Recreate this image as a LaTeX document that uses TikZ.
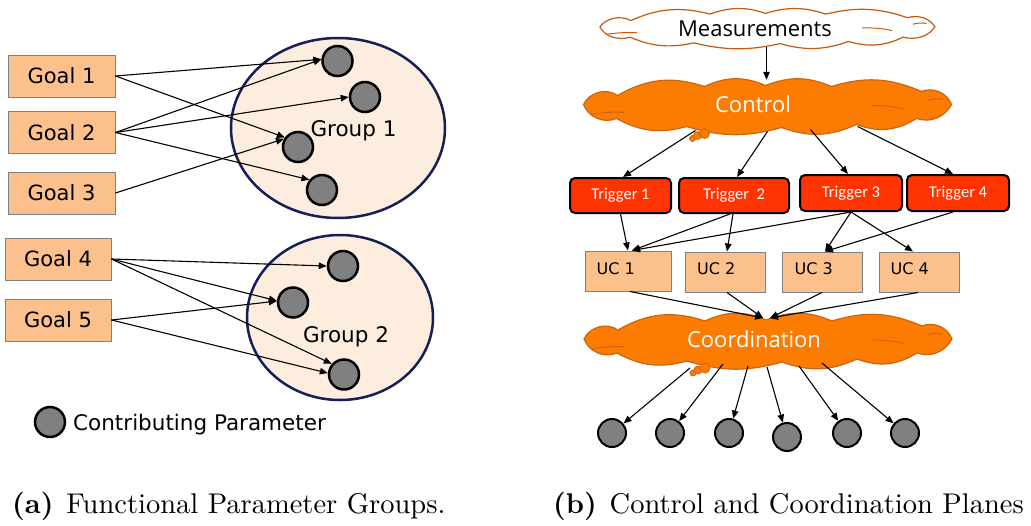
\documentclass[tikz,border=0pt]{standalone}
\usepackage{fontspec}
\newfontfamily\verd{DejaVu Sans}
\newfontfamily\segoe{Open Sans}
\newfontfamily\calib{Carlito}
\newfontfamily\caprm{lmroman10-regular.otf}[BoldFont=lmroman10-bold.otf]
\usetikzlibrary{shapes.geometric,arrows.meta,calc}

\definecolor{goalfill}{RGB}{251,192,140}
\definecolor{boxline}{RGB}{120,128,140}
\definecolor{groupfill}{RGB}{253,237,222}
\definecolor{navy}{RGB}{22,30,88}
\definecolor{paramgray}{RGB}{128,128,128}
\definecolor{ctrlfill}{RGB}{252,124,2}
\definecolor{ctrlline}{RGB}{205,100,15}
\definecolor{measline}{RGB}{197,90,17}
\definecolor{trigred}{RGB}{255,52,0}

% outline of a wide cloud, centred on the origin (about 370 x 53 units)
\newcommand\cloudoutline{(-183,-2) to[bend left=50] (-149,-11) to[bend left=24] (-62,-20)
  to[bend left=24] (-1,-21) to[bend left=22] (65,-20) to[bend left=20] (155,-15)
  to[bend left=45] (185,-2) to[bend left=40] (150,12) to[bend left=26] (90,18)
  to[bend left=22] (15,21) to[bend left=16] (-80,20) to[bend left=22] (-150,12)
  to[bend left=45] (-183,-2) -- cycle}
% short inner folds of the cloud
\newcommand\cloudfolds{(-176,8) .. controls (-165,6) and (-152,5) .. (-142,6)
  (105,-1) .. controls (117,-1) and (129,0) .. (138,3)
  (161,-6) .. controls (166,-8) and (171,-8) .. (176,-7)}

\tikzset{
  goalbox/.style={draw=boxline, fill=goalfill, line width=1pt, minimum width=107pt,
    minimum height=42pt, inner sep=0pt, font=\verd\fontsize{21}{24}\selectfont},
  grp/.style={ellipse, draw=navy, fill=groupfill, line width=2.5pt, inner sep=0pt},
  lbl/.style={inner sep=0pt, font=\verd\fontsize{21.5}{24}\selectfont},
  param/.style={circle, draw=black, fill=paramgray, line width=2.5pt, minimum size=30pt, inner sep=0pt},
  smallparam/.style={param, line width=2pt, minimum size=28pt},
  arr/.style={-{Triangle[length=8pt,width=6.5pt]}, line width=1.1pt},
  cloudarea/.style={inner sep=0pt, minimum width=367pt, minimum height=53pt},
  cloudtxt/.style={inner sep=0pt, text=white, font=\segoe\fontsize{22}{24}\selectfont},
  trig/.style={draw=black, fill=trigred, line width=2pt, rounded corners=5pt, inner sep=0pt,
    text=white, font=\calib\fontsize{16.5}{18}\selectfont},
  ucbox/.style={draw=boxline, fill=goalfill, line width=1pt, minimum width=80pt,
    minimum height=40pt, inner sep=0pt},
  uctxt/.style={inner sep=0pt, font=\verd\fontsize{16}{18}\selectfont},
  bubble/.style={fill=ctrlfill, draw=ctrlline, line width=0.8pt},
  captxt/.style={inner sep=0pt, font=\caprm\fontsize{28.5}{30}\selectfont}
}

\begin{document}
\begin{tikzpicture}[x=1pt,y=-1pt]
\useasboundingbox (0,0) rectangle (1031,525);

% ---------- (a) functional parameter groups ----------
\node[goalbox] (g1) at (61.5,76) {Goal 1};
\node[goalbox] (g2) at (61.5,132.5) {Goal 2};
\node[goalbox] (g3) at (61.5,193) {Goal 3};
\node[goalbox, minimum width=106pt] (g4) at (58,259) {Goal 4};
\node[goalbox, minimum width=106pt] (g5) at (58,320) {Goal 5};

\node[grp, minimum width=214pt, minimum height=180pt] (grp1) at (338,128) {};
\node[grp, minimum width=186pt, minimum height=165pt] (grp2) at (340,317.5) {};
\node[lbl, anchor=base] (grp1t) at (353.5,136) {Group 1};
\node[lbl, anchor=base] (grp2t) at (346,342) {Group 2};

\node[param] (c1) at (337.5,61) {};
\node[param] (c2) at (365,97) {};
\node[param] (c3) at (298,147) {};
\node[param] (c4) at (322,190) {};
\node[param] (d1) at (343,266) {};
\node[param] (d2) at (293,302.5) {};
\node[param] (d3) at (344,374.5) {};

\draw[arr] (g1.east) -- (c1.174);
\draw[arr] (g1.east) -- (c3.144);
\draw[arr] (g2.east) -- (c1.174);
\draw[arr] (g2.east) -- (c2.180);
\draw[arr] (g2.east) -- (c4.141);
\draw[arr] (g3.east) -- (c3.150);
\draw[arr] (g4.east) -- (d1.180);
\draw[arr] (g4.east) -- (d2.174);
\draw[arr] (g4.east) -- (d3.139);
\draw[arr] (g5.east) -- (d2.175);
\draw[arr] (g5.east) -- (d3.175);

\node[param] (leg) at (50,422) {};
\node[lbl, anchor=base west] (legt) at (73,430) {Contributing Parameter};

% ---------- (b) control and coordination planes ----------
% Measurements cloud
\begin{scope}[shift={(766.5,28.5)}, xscale=0.91, yscale=0.72]
  \filldraw[fill=white, draw=measline, line width=1.2pt] \cloudoutline;
  \draw[measline, line width=1pt] \cloudfolds;
\end{scope}
\node[cloudarea, minimum width=337pt, minimum height=37pt] (meas) at (766.5,28.5) {};
\node[cloudtxt, text=black, anchor=base] (meast) at (755,36) {Measurements};

% Control cloud
\begin{scope}[shift={(766.5,106.5)}]
  \filldraw[fill=ctrlfill, draw=ctrlline, line width=1.2pt] \cloudoutline;
  \draw[ctrlline, line width=1pt] \cloudfolds;
\end{scope}
\node[cloudarea] (ctrl) at (766.5,106.5) {};
\node[cloudtxt, anchor=base] (ctrlt) at (753,112) {Control};
\foreach \dx/\dy/\r in {-74/32/3,-69/29/4,-62/27/5}
  \draw[bubble] ([shift={(\dx,\dy)}]ctrl.center) circle[radius=\r pt];

\draw[arr] (meas.south) -- (ctrl.north);

\node[trig, minimum width=101pt, minimum height=35pt] (t1) at (620.5,195.5) {Trigger 1};
\node[trig, minimum width=110pt, minimum height=35pt] (t2) at (734,195.5) {Trigger~~2};
\node[trig, minimum width=102pt, minimum height=36pt] (t3) at (851,193) {Trigger 3};
\node[trig, minimum width=102pt, minimum height=36pt] (t4) at (958,193) {Trigger 4};

\draw[arr] ([shift={(-71,24)}]ctrl.center) -- ([xshift=2.5pt]t1.north);
\draw[arr] ([shift={(1,25)}]ctrl.center) -- ([xshift=3pt]t2.north);
\draw[arr] ([shift={(44,23)}]ctrl.center) -- ([xshift=-3pt]t3.north);
\draw[arr] ([shift={(91,20)}]ctrl.center) -- ([xshift=-5pt]t4.north);

\node[ucbox, minimum width=86pt] (uc1) at (628,271) {};
\node[ucbox] (uc2) at (725,272) {};
\node[ucbox] (uc3) at (822,272) {};
\node[ucbox] (uc4) at (919,272) {};
\node[uctxt, anchor=base west] (uc1t) at ([shift={(12,3)}]uc1.west) {UC 1};
\node[uctxt, anchor=base west] (uc2t) at ([shift={(12.5,2)}]uc2.west) {UC 2};
\node[uctxt, anchor=base west] (uc3t) at ([shift={(13,2)}]uc3.west) {UC 3};
\node[uctxt, anchor=base west] (uc4t) at ([shift={(12,2)}]uc4.west) {UC 4};

\draw[arr] (t1.south) -- (uc1.north);
\draw[arr] ([xshift=-4pt]t2.south) -- ([xshift=4pt]uc1.north);
\draw[arr] ([xshift=-1pt]t2.south) -- ([xshift=2pt]uc2.north);
\draw[arr] (t3.south) -- ([xshift=4pt]uc1.north);
\draw[arr] (t3.south) -- ([xshift=3pt]uc3.north);
\draw[arr] (t3.south) -- ([xshift=-6pt]uc4.north);
\draw[arr] ([xshift=-5pt]t4.south) -- ([xshift=3pt]uc3.north);

% Coordination cloud
\begin{scope}[shift={(767,341)}]
  \filldraw[fill=ctrlfill, draw=ctrlline, line width=1.2pt] \cloudoutline;
  \draw[ctrlline, line width=1pt] \cloudfolds;
\end{scope}
\node[cloudarea, minimum height=52pt] (coord) at (767,341) {};
\node[cloudtxt, anchor=base] (coordt) at (754,347) {Coordination};
\foreach \dx/\dy/\r in {-74/32/3,-69/29/4,-62/27/5}
  \draw[bubble] ([shift={(\dx,\dy)}]coord.center) circle[radius=\r pt];

\draw[arr] ([xshift=2pt]uc1.south) -- ([shift={(-4,-23)}]coord.center);
\draw[arr] ([xshift=2pt]uc2.south) -- ([shift={(-4,-23)}]coord.center);
\draw[arr] (uc3.south) -- ([shift={(3,-23)}]coord.center);
\draw[arr] ([xshift=-1pt]uc4.south) -- ([shift={(3,-23)}]coord.center);

\node[smallparam] (p1) at (612,433) {};
\node[smallparam] (p2) at (670,433) {};
\node[smallparam] (p3) at (729,433) {};
\node[smallparam] (p4) at (787,437) {};
\node[smallparam] (p5) at (847,433) {};
\node[smallparam] (p6) at (905,433) {};

\draw[arr] ([shift={(-77,27)}]coord.center) -- (p1);
\draw[arr] ([shift={(-44,23)}]coord.center) -- (p2);
\draw[arr] ([shift={(-19,25)}]coord.center) -- (p3);
\draw[arr] ([shift={(0,26)}]coord.center) -- (p4);
\draw[arr] ([shift={(32,25)}]coord.center) -- (p5);
\draw[arr] ([shift={(55,22)}]coord.center) -- (p6);

% ---------- captions ----------
\node[captxt, anchor=base west] (capa) at (12,513) {\textbf{(a)}\hspace{0.45em}Functional Parameter Groups.};
\node[captxt, anchor=base west] (capb) at (553,513) {\textbf{(b)}\hspace{0.45em}Control and Coordination Planes};
\end{tikzpicture}
\end{document}
